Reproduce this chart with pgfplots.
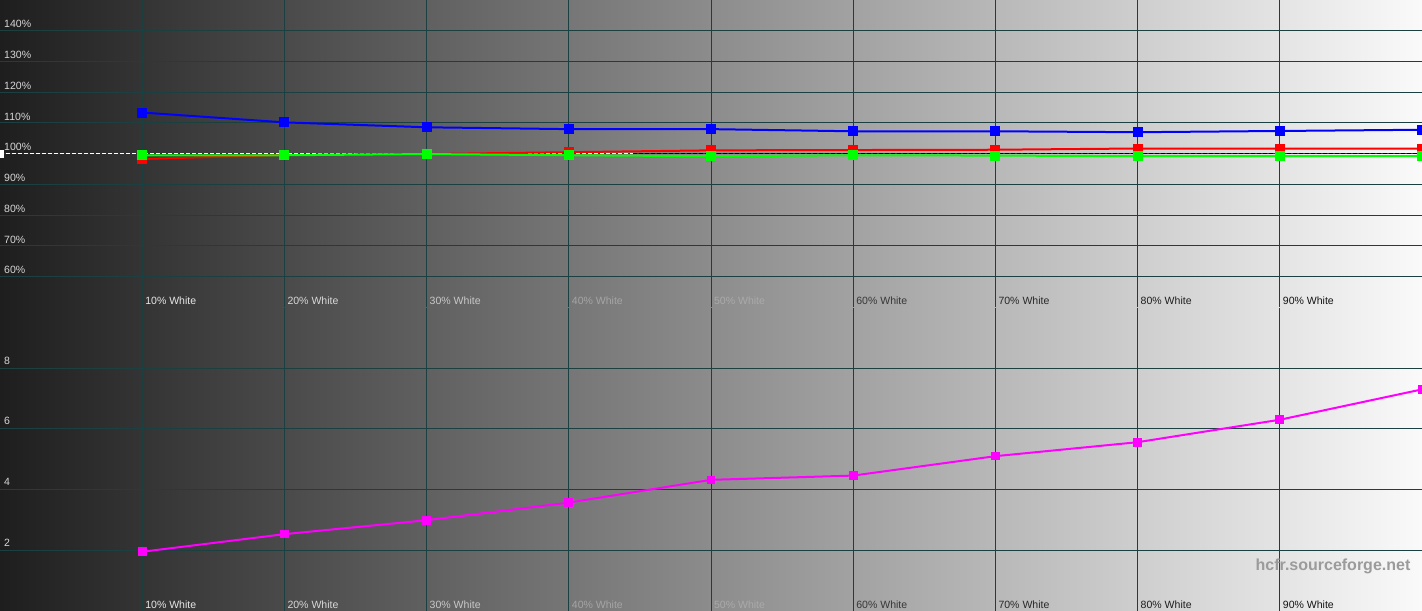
\documentclass[border=0pt]{standalone}
\usepackage{pgfplots}
\pgfplotsset{compat=1.18}
\usepackage{fontspec}
\setmainfont{Liberation Sans}
\definecolor{bgL}{RGB}{30,30,30}
\definecolor{bgR}{RGB}{250,250,250}
\definecolor{gridc}{RGB}{28,64,64}
\definecolor{ylab}{RGB}{215,215,215}
\definecolor{wm}{RGB}{155,155,155}
\newcommand{\lf}{\fontsize{7.9}{9}\selectfont}
\tikzset{lab/.style={anchor=base west, inner sep=0pt, font=\lf}}
\begin{document}
\begin{tikzpicture}
\pgfplotsset{
  base/.style={scale only axis, width=1066.5pt, xmin=0, xmax=100,
    axis line style={draw=none}, major tick length=0pt,
    xtick={10,20,...,90}, xticklabels=\empty, yticklabels=\empty,
    grid=major, major grid style={gridc, line width=0.75pt},
    axis background/.style={left color=bgL, right color=bgR},
    clip marker paths=true,
  },
  ser/.style={line width=1.5pt, mark=square*, mark size=3pt, mark options={solid}},
}
% ---------- bottom panel (delta E) ----------
\begin{axis}[base, height=227.6pt, ymin=0, ymax=10, ytick={2,4,6,8}, at={(0,0)}, anchor=south west]
\addplot[ser, color={rgb,255:red,255;green,0;blue,255}, mark size=2.5pt] coordinates {
(10,1.95) (20,2.53) (30,2.99) (40,3.57) (50,4.32) (60,4.46) (70,5.10) (80,5.56) (90,6.30) (100,7.30)};
\node[lab, text=ylab] at (axis cs:0.28,8.13) {8};
\node[lab, text=ylab] at (axis cs:0.28,6.13) {6};
\node[lab, text=ylab] at (axis cs:0.28,4.13) {4};
\node[lab, text=ylab] at (axis cs:0.28,2.13) {2};
\node[lab, text={rgb,255:red,232;green,232;blue,232}] at (axis cs:10.2,0.08) {10\% White};
\node[lab, text={rgb,255:red,216;green,216;blue,216}] at (axis cs:20.2,0.08) {20\% White};
\node[lab, text={rgb,255:red,200;green,200;blue,200}] at (axis cs:30.2,0.08) {30\% White};
\node[lab, text={rgb,255:red,165;green,165;blue,165}] at (axis cs:40.2,0.08) {40\% White};
\node[lab, text={rgb,255:red,170;green,170;blue,170}] at (axis cs:50.2,0.08) {50\% White};
\node[lab, text={rgb,255:red,55;green,55;blue,55}] at (axis cs:60.2,0.08) {60\% White};
\node[lab, text={rgb,255:red,40;green,40;blue,40}] at (axis cs:70.2,0.08) {70\% White};
\node[lab, text={rgb,255:red,30;green,30;blue,30}] at (axis cs:80.2,0.08) {80\% White};
\node[lab, text={rgb,255:red,20;green,20;blue,20}] at (axis cs:90.2,0.08) {90\% White};
\node[anchor=base east, inner sep=0pt, text=wm, font=\fontsize{12}{14}\selectfont\bfseries] at (axis cs:99.2,1.34) {hcfr.sourceforge.net};
\end{axis}
% ---------- top panel (RGB levels) ----------
\begin{axis}[base, height=230.6pt, ymin=50, ymax=150, ytick={60,70,...,140}, at={(0,227.6pt)}, anchor=south west]
\addplot[white, line width=0.75pt, dash pattern=on 3pt off 1.5pt] coordinates {(0,100) (44.5,100)};
\addplot[black, line width=0.75pt, dash pattern=on 3pt off 1.5pt] coordinates {(44.5,100) (100,100)};
\addplot[only marks, mark=square*, mark size=2.5pt, white] coordinates {(0,100)};
\addplot[ser, color={rgb,255:red,255;green,0;blue,0}] coordinates {
(10,98.3) (20,99.6) (30,99.9) (40,100.5) (50,101.1) (60,101.2) (70,101.3) (80,101.7) (90,101.7) (100,101.7)};
\addplot[ser, color={rgb,255:red,0;green,255;blue,0}] coordinates {
(10,99.5) (20,99.5) (30,99.9) (40,99.5) (50,99.2) (60,99.5) (70,99.4) (80,99.2) (90,99.2) (100,99.2)};
\addplot[ser, color={rgb,255:red,0;green,0;blue,255}] coordinates {
(10,113.4) (20,110.2) (30,108.6) (40,108.0) (50,108.0) (60,107.3) (70,107.3) (80,107.0) (90,107.4) (100,107.8)};
\node[lab, text=ylab] at (axis cs:0.28,140.95) {140\%};
\node[lab, text=ylab] at (axis cs:0.28,130.95) {130\%};
\node[lab, text=ylab] at (axis cs:0.28,120.95) {120\%};
\node[lab, text=ylab] at (axis cs:0.28,110.95) {110\%};
\node[lab, text=ylab] at (axis cs:0.28,100.95) {100\%};
\node[lab, text=ylab] at (axis cs:0.28,90.95) {90\%};
\node[lab, text=ylab] at (axis cs:0.28,80.95) {80\%};
\node[lab, text=ylab] at (axis cs:0.28,70.95) {70\%};
\node[lab, text=ylab] at (axis cs:0.28,60.95) {60\%};
\node[lab, text={rgb,255:red,232;green,232;blue,232}] at (axis cs:10.2,51.1) {10\% White};
\node[lab, text={rgb,255:red,216;green,216;blue,216}] at (axis cs:20.2,51.1) {20\% White};
\node[lab, text={rgb,255:red,200;green,200;blue,200}] at (axis cs:30.2,51.1) {30\% White};
\node[lab, text={rgb,255:red,165;green,165;blue,165}] at (axis cs:40.2,51.1) {40\% White};
\node[lab, text={rgb,255:red,170;green,170;blue,170}] at (axis cs:50.2,51.1) {50\% White};
\node[lab, text={rgb,255:red,55;green,55;blue,55}] at (axis cs:60.2,51.1) {60\% White};
\node[lab, text={rgb,255:red,40;green,40;blue,40}] at (axis cs:70.2,51.1) {70\% White};
\node[lab, text={rgb,255:red,30;green,30;blue,30}] at (axis cs:80.2,51.1) {80\% White};
\node[lab, text={rgb,255:red,20;green,20;blue,20}] at (axis cs:90.2,51.1) {90\% White};
\end{axis}
\pgfresetboundingbox
\useasboundingbox (0,0) rectangle (1066.5pt,458.2pt);
\end{tikzpicture}
\end{document}
